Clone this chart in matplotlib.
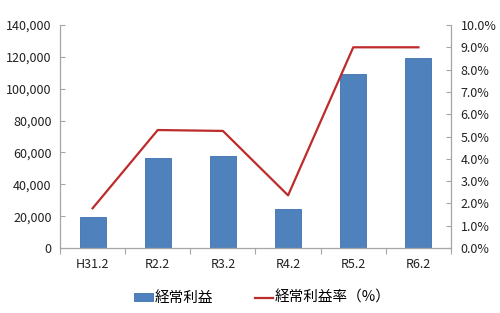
import matplotlib
matplotlib.use("Agg")
import matplotlib.pyplot as plt
import numpy as np

plt.rcParams['font.family'] = ['Noto Sans CJK JP', 'DejaVu Sans']

categories = ["H31.2", "R2.2", "R3.2", "R4.2", "R5.2", "R6.2"]
profit = [19500, 56700, 57900, 24700, 109400, 119500]
rate = [1.78, 5.29, 5.25, 2.36, 9.0, 9.0]
left_ticks = [0, 20000, 40000, 60000, 80000, 100000, 120000, 140000]
right_ticks = [i * 1.0 for i in range(11)]

fig = plt.figure(figsize=(5.0, 3.13), dpi=100)
ax = fig.add_axes([60/500, 1-248/313, 391/500, 223/313])
ax2 = ax.twinx()

x = np.arange(len(categories))
bars = ax.bar(x, profit, width=0.4, color='#4F81BD', edgecolor='#3E6FAE', linewidth=0.6, label='経常利益', zorder=2)
line, = ax2.plot(x, rate, color='#BE2B2B', linewidth=1.6, label='経常利益率（%）', zorder=3)

ax.set_xlim(-0.5, len(categories) - 0.5)
ax.set_ylim(0, 140000)
ax2.set_ylim(0, 10)
ax.set_yticks(left_ticks)
ax.set_yticklabels([f"{v:,}" for v in left_ticks])
ax2.set_yticks(right_ticks)
ax2.set_yticklabels([f"{v:.1f}%" for v in right_ticks])

ax.set_xticks(x)
ax.set_xticklabels(categories)
ax.set_xticks(np.arange(-0.5, len(categories)), minor=True)
ax.tick_params(axis='x', which='major', length=0, pad=7, labelsize=9, colors='#222222')
ax.tick_params(axis='x', which='minor', length=4, color='#A6A6A6', width=0.8)
ax.tick_params(axis='y', direction='in', length=3.5, color='#A6A6A6', width=0.8, labelsize=9,
               labelcolor='#222222', pad=6)
ax2.tick_params(axis='y', direction='in', length=3.5, color='#A6A6A6', width=0.8, labelsize=9,
                labelcolor='#222222', pad=7)

for a in (ax, ax2):
    a.spines['top'].set_visible(False)
    for s in ['left', 'right', 'bottom']:
        a.spines[s].set_color('#A6A6A6')
        a.spines[s].set_linewidth(0.9)
ax.spines['right'].set_visible(False)
ax2.spines['left'].set_visible(False)
ax2.spines['bottom'].set_visible(False)

fig.legend([bars, line], ['経常利益', '経常利益率（%）'], loc='center', bbox_to_anchor=(0.525, 1-298/313),
           ncol=2, frameon=False, fontsize=10.5, handlelength=1.25, handletextpad=0.1, columnspacing=2.9,
           handleheight=0.45)

fig.savefig("out.png", dpi=100)
